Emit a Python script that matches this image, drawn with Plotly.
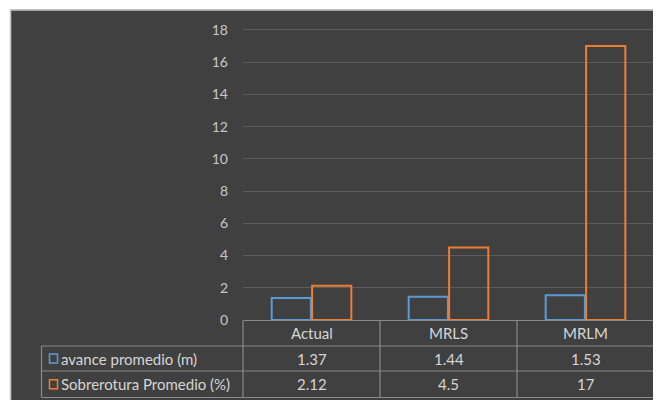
import plotly.graph_objects as go

# ---------------- data ----------------
categories = ["Actual", "MRLS", "MRLM"]
series_names = ["avance promedio (m)", "Sobrerotura Promedio (%)"]
avance = [1.37, 1.44, 1.53]
sobrerotura = [2.12, 4.5, 17]
avance_labels = ["1.37", "1.44", "1.53"]
sobrerotura_labels = ["2.12", "4.5", "17"]
y_ticks = [0, 2, 4, 6, 8, 10, 12, 14, 16, 18]
series_colors = ["#5B9BD5", "#ED7D31"]

# ---------------- layout geometry ----------------
# The page body has an 8px margin, so the figure starts at (8, 8) of the window.
OX, OY = 8, 8
W, H = 661 - OX, 400 - OY
# plot area in window px: x 243..654, y 20..320
L, R, T, B = 243 - OX, 661 - 654, 20 - OY, 400 - 320
PW, PH = W - L - R, H - T - B
BG = "#404040"
GRID = "#5c5c5c"
TABLE_LINE = "#8a8a8a"
TXT = "#d6d6d6"
FONT = "Lato"


def px_x(px):  # window px -> paper x
    return (px - OX - L) / PW


def px_y(py):  # window px -> paper y
    return (H - B - (py - OY)) / PH


fig = go.Figure()
for name, vals, col in zip(series_names, [avance, sobrerotura], series_colors):
    fig.add_trace(go.Bar(
        x=categories, y=vals, name=name,
        marker=dict(color="rgba(0,0,0,0)", line=dict(color=col, width=2)),
        hoverinfo="x+y",
    ))

shapes = []
annotations = []

# table horizontal lines
row_y = [320.5, 346, 371, 397.5]
shapes.append(dict(type="line", xref="paper", yref="paper",
                   x0=0, x1=1, y0=px_y(row_y[0]), y1=px_y(row_y[0]),
                   line=dict(color=TABLE_LINE, width=1.2)))
for ry in row_y[1:]:
    shapes.append(dict(type="line", xref="paper", yref="paper",
                       x0=px_x(41.5), x1=1, y0=px_y(ry), y1=px_y(ry),
                       line=dict(color=TABLE_LINE, width=1.2)))
# vertical lines
shapes.append(dict(type="line", xref="paper", yref="paper",
                   x0=px_x(41.5), x1=px_x(41.5), y0=px_y(row_y[1]), y1=px_y(row_y[3]),
                   line=dict(color=TABLE_LINE, width=1.2)))
n = len(categories)
for k in range(n + 1):
    shapes.append(dict(type="line", xref="paper", yref="paper",
                       x0=k / n, x1=k / n, y0=px_y(row_y[0]), y1=px_y(row_y[3]),
                       line=dict(color=TABLE_LINE, width=1.2)))

TFS = 15
# header texts
for c in categories:
    annotations.append(dict(x=c, xref="x", yref="paper",
                            y=px_y((row_y[0] + row_y[1]) / 2), text=c,
                            xanchor="center", yanchor="middle",
                            showarrow=False, font=dict(family=FONT, size=TFS, color=TXT)))
# value rows
for ri, (name, labels, col) in enumerate(zip(series_names,
                                             [avance_labels, sobrerotura_labels],
                                             series_colors)):
    yc = (row_y[ri + 1] + row_y[ri + 2]) / 2
    for c, lab in zip(categories, labels):
        annotations.append(dict(x=c, xref="x", yref="paper", y=px_y(yc), text=lab,
                                xanchor="center", yanchor="middle",
                                showarrow=False, font=dict(family=FONT, size=TFS, color=TXT)))
    # legend key
    shapes.append(dict(type="rect", xref="paper", yref="paper",
                       x0=px_x(49.5), x1=px_x(57.5), y0=px_y(yc - 4.5), y1=px_y(yc + 4.5),
                       line=dict(color=col, width=1.5), fillcolor="rgba(0,0,0,0)"))
    annotations.append(dict(x=px_x(58.5), xref="paper", yref="paper", y=px_y(yc),
                            text=name, xanchor="left", yanchor="middle", showarrow=False,
                            font=dict(family=FONT, size=TFS, color=TXT)))

# light border line at the page edge (top and left)
shapes.append(dict(type="rect", xref="paper", yref="paper", layer="above",
                   x0=px_x(7), x1=px_x(662), y0=px_y(7), y1=px_y(9.5),
                   fillcolor="white", line=dict(width=0)))
shapes.append(dict(type="rect", xref="paper", yref="paper", layer="above",
                   x0=px_x(7), x1=px_x(10), y0=px_y(7), y1=px_y(401),
                   fillcolor="white", line=dict(width=0)))
shapes.append(dict(type="line", xref="paper", yref="paper", layer="above",
                   x0=px_x(10), x1=px_x(662), y0=px_y(10), y1=px_y(10),
                   line=dict(color="#c8c8c8", width=1.5)))
shapes.append(dict(type="line", xref="paper", yref="paper", layer="above",
                   x0=px_x(10.5), x1=px_x(10.5), y0=px_y(10), y1=px_y(401),
                   line=dict(color="#c8c8c8", width=1.5)))

fig.update_layout(
    width=W, height=H,
    margin=dict(l=L, r=R, t=T, b=B),
    paper_bgcolor=BG, plot_bgcolor=BG,
    barmode="group", bargap=0.41, bargroupgap=0.03,
    showlegend=False,
    shapes=shapes, annotations=annotations,
    xaxis=dict(showticklabels=False, showgrid=False, zeroline=False,
               showline=False, ticks="", range=[-0.5, 2.5]),
    yaxis=dict(range=[0, 18.62], tickvals=y_ticks, showgrid=True,
               gridcolor=GRID, gridwidth=1, zeroline=False, showline=False,
               ticks="", ticklabelstandoff=14,
               tickfont=dict(family=FONT, size=14, color="#c8c8c8")),
    font=dict(family=FONT),
)

fig.write_html("out.html")
